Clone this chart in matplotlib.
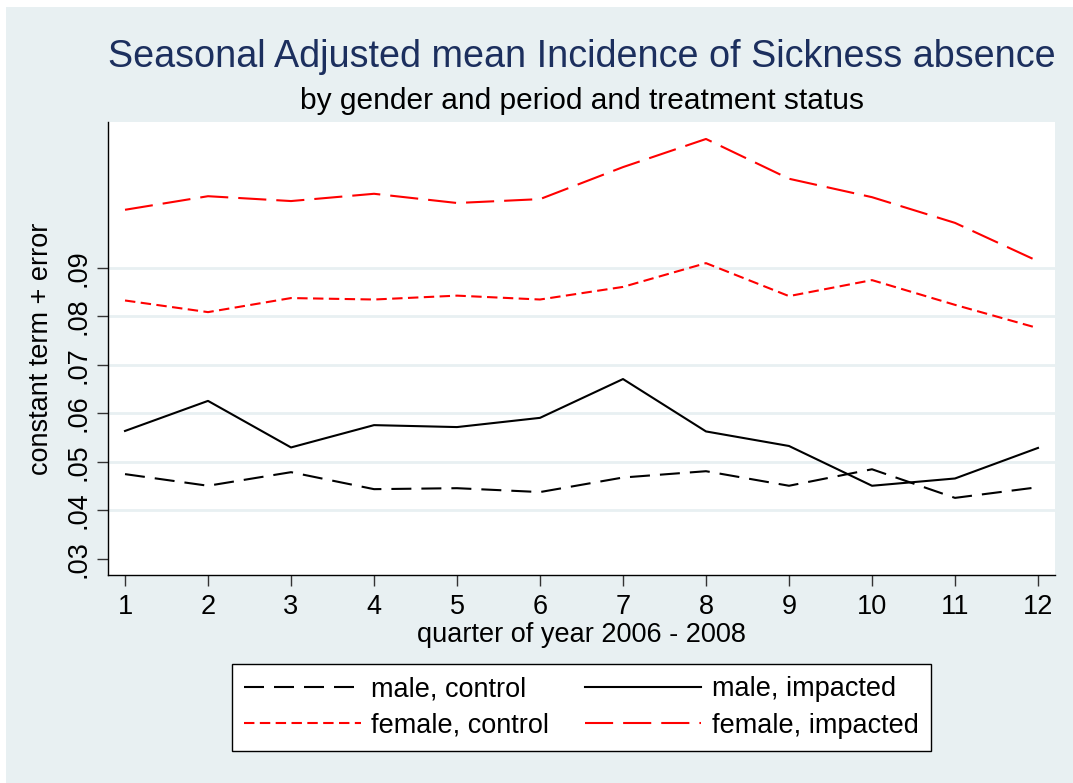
import matplotlib
matplotlib.use("Agg")
import matplotlib.pyplot as plt
from matplotlib.patches import Rectangle

plt.rcParams['font.family'] = ['Liberation Sans', 'DejaVu Sans']

quarters = list(range(1, 13))
male_control = [0.0475, 0.0451, 0.0479, 0.0444, 0.0446, 0.0438, 0.0468, 0.0481, 0.0451, 0.0485, 0.0426, 0.0448]
male_impacted = [0.0564, 0.0626, 0.0530, 0.0576, 0.0572, 0.0591, 0.0671, 0.0563, 0.0533, 0.0451, 0.0466, 0.0529]
female_control = [0.0833, 0.0809, 0.0838, 0.0835, 0.0843, 0.0835, 0.0861, 0.0910, 0.0842, 0.0875, 0.0824, 0.0776]
female_impacted = [0.1020, 0.1048, 0.1038, 0.1053, 0.1034, 0.1042, 0.1108, 0.1166, 0.1084, 0.1046, 0.0993, 0.0914]
ytick_vals = [0.03, 0.04, 0.05, 0.06, 0.07, 0.08, 0.09]
ytick_labels = ['.03', '.04', '.05', '.06', '.07', '.08', '.09']

W, H = 1073, 783
BG = '#e8f0f2'
FS = 19.5
fig = plt.figure(figsize=(W / 100, H / 100), dpi=100, facecolor='white')
fig.patches.append(Rectangle((6 / W, 0), 1 - 6 / W, 1 - 7 / H, transform=fig.transFigure,
                             facecolor=BG, edgecolor='none', zorder=-10))

ax = fig.add_axes([108 / W, 1 - 575 / H, (1055 - 108) / W, (575 - 122) / H])
ax.set_facecolor('white')
lw = 1.5
ax.plot(quarters, male_control, color='black', lw=lw, linestyle=(0, (9.6, 4.8)), label='male, control')
ax.plot(quarters, male_impacted, color='black', lw=lw, linestyle='-', label='male, impacted')
ax.plot(quarters, female_control, color='red', lw=lw, linestyle=(0, (5.0, 2.6)), label='female, control')
ax.plot(quarters, female_impacted, color='red', lw=lw, linestyle=(0, (13.5, 4.8)), label='female, impacted')

for v in ytick_vals[1:]:
    ax.axhline(v, color=BG, lw=2.0, zorder=0)

ax.set_xlim(0.795, 12.205)
ax.set_ylim(0.0267, 0.1201)
ax.set_xticks(quarters)
ax.set_xticklabels([str(q) for q in quarters])
ax.set_yticks(ytick_vals)
ax.set_yticklabels(ytick_labels, rotation=90, va='center')
ax.tick_params(axis='both', labelsize=FS, length=8, width=1, color='#333333')
ax.tick_params(axis='x', pad=6)
ax.tick_params(axis='y', pad=4)
for s in ['top', 'right']:
    ax.spines[s].set_visible(False)
for s in ['left', 'bottom']:
    ax.spines[s].set_linewidth(1.0)

ax.set_xlabel('quarter of year 2006 - 2008', fontsize=FS, labelpad=1)
ax.set_ylabel('constant term + error', fontsize=FS, labelpad=8)

cx = (108 + 1055) / 2 / W
fig.text(cx, 1 - 57 / H, 'Seasonal Adjusted mean Incidence of Sickness absence',
         ha='center', va='center', fontsize=27.2, color='#1c2f5e')
fig.text(cx, 1 - 101 / H, 'by gender and period and treatment status',
         ha='center', va='center', fontsize=21.5, color='black')

h = ax.get_lines()
handles = [h[0], h[2], h[1], h[3]]
labels = [x.get_label() for x in handles]
leg = fig.legend(handles, labels, ncol=2, loc='center',
                 bbox_to_anchor=(581.5 / W, 1 - 707.5 / H), fontsize=FS,
                 frameon=True, fancybox=False, edgecolor='black', facecolor='white',
                 handlelength=4.3, handletextpad=0.4, columnspacing=1.3,
                 borderpad=0.45, labelspacing=0.4, framealpha=1)
leg.get_frame().set_linewidth(1.0)

fig.savefig('out.png', dpi=100, facecolor=fig.get_facecolor())
